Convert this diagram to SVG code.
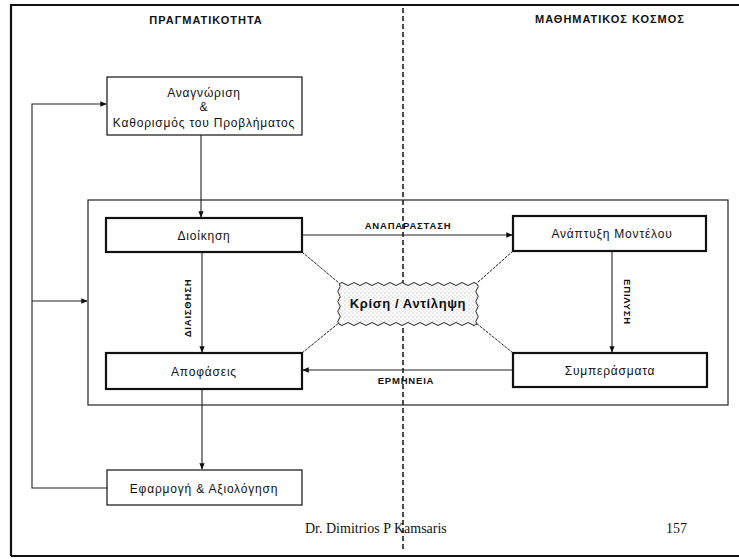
<svg xmlns="http://www.w3.org/2000/svg" width="739" height="559" viewBox="0 0 739 559">
  <style>
    .hdr { font-family: "Liberation Sans", Arial, sans-serif; font-size: 11px; font-weight: bold; letter-spacing: 1px; fill: #111; }
    .lbl { font-family: "Liberation Sans", Arial, sans-serif; font-size: 12px; letter-spacing: 0.8px; fill: #111; }
    .edge-lbl { font-family: "Liberation Sans", Arial, sans-serif; font-size: 9.5px; font-weight: bold; letter-spacing: 0.8px; fill: #111; }
    .foot { font-family: "Liberation Serif", "Times New Roman", serif; font-size: 14px; fill: #111; }
    .box { fill: #fff; stroke: #111; stroke-width: 1.2; }
    .box-b { fill: #fff; stroke: #111; stroke-width: 2.2; }
    .ln { fill: none; stroke: #222; stroke-width: 1.1; }
    .diag { fill: none; stroke: #222; stroke-width: 1; stroke-dasharray: 3 1; }
  </style>
  <defs>
    <marker id="arr" viewBox="0 0 8 8" refX="7" refY="4" markerWidth="6" markerHeight="6" orient="auto">
      <path d="M0,0.8 L8,4 L0,7.2 z" fill="#111"/>
    </marker>
    <pattern id="stipple" width="4" height="4" patternUnits="userSpaceOnUse">
      <rect width="4" height="4" fill="#fff"/>
      <circle cx="1" cy="1" r="0.6" fill="#999"/>
      <circle cx="3" cy="3" r="0.6" fill="#bbb"/>
    </pattern>
  </defs>

  <rect width="739" height="559" fill="#fff"/>

  <!-- page frame and the two halves -->
  <g id="frame">
    <path d="M11,556 L11,5 L739,5" fill="none" stroke="#111" stroke-width="2.2"/>
    <path d="M11,556 L739,556" fill="none" stroke="#111" stroke-width="2"/>
    <line x1="403" y1="8" x2="403" y2="552" stroke="#111" stroke-width="1.5" stroke-dasharray="5 3"/>
    <text class="hdr" x="206" y="24" text-anchor="middle">ΠΡΑΓΜΑΤΙΚΟΤΗΤΑ</text>
    <text class="hdr" x="610" y="23" text-anchor="middle">ΜΑΘΗΜΑΤΙΚΟΣ ΚΟΣΜΟΣ</text>
  </g>

  <!-- inner process frame -->
  <rect id="process-frame" x="88" y="200" width="640" height="205" fill="none" stroke="#222" stroke-width="1.2"/>

  <!-- connectors -->
  <g id="connectors">
    <line class="ln" x1="201" y1="135" x2="201" y2="217" marker-end="url(#arr)"/>
    <line class="ln" x1="302" y1="235" x2="512" y2="235" marker-end="url(#arr)"/>
    <line class="ln" x1="513" y1="370" x2="303" y2="370" marker-end="url(#arr)"/>
    <line class="ln" x1="202" y1="252" x2="202" y2="352" marker-end="url(#arr)"/>
    <line class="ln" x1="612" y1="251" x2="612" y2="352" marker-end="url(#arr)"/>
    <line class="ln" x1="202" y1="389" x2="202" y2="469" marker-end="url(#arr)"/>
    <polyline class="ln" points="107,488 32,488 32,104 106,104" marker-end="url(#arr)"/>
    <line class="ln" x1="32" y1="301" x2="87" y2="301" marker-end="url(#arr)"/>
    <line class="diag" x1="302" y1="252" x2="339" y2="283"/>
    <line class="diag" x1="513" y1="251" x2="477" y2="283"/>
    <line class="diag" x1="302" y1="353" x2="340" y2="322"/>
    <line class="diag" x1="513" y1="353" x2="476" y2="323"/>
    <text class="edge-lbl" x="408" y="229" text-anchor="middle">ΑΝΑΠΑΡΑΣΤΑΣΗ</text>
    <text class="edge-lbl" x="406" y="384" text-anchor="middle">ΕΡΜΗΝΕΙΑ</text>
    <text class="edge-lbl" transform="translate(191,308) rotate(-90)" text-anchor="middle" letter-spacing="1.8">ΔΙΑΙΣΘΗΣΗ</text>
    <text class="edge-lbl" transform="translate(624,302) rotate(90)" text-anchor="middle" letter-spacing="1.5">ΕΠΙΛΥΣΗ</text>
  </g>

  <g id="node-problem">
    <rect class="box" x="107" y="77" width="195" height="58"/>
    <text class="lbl" x="204" y="97" text-anchor="middle">Αναγνώριση</text>
    <text class="lbl" x="204" y="111" text-anchor="middle">&amp;</text>
    <text class="lbl" x="204" y="127" text-anchor="middle">Καθορισμός του Προβλήματος</text>
  </g>

  <g id="node-management">
    <rect class="box-b" x="106" y="218" width="196" height="34"/>
    <text class="lbl" x="204" y="240" text-anchor="middle">Διοίκηση</text>
  </g>

  <g id="node-model">
    <rect class="box-b" x="513" y="216" width="193" height="35"/>
    <text class="lbl" x="612" y="238" text-anchor="middle">Ανάπτυξη Μοντέλου</text>
  </g>

  <g id="node-decisions">
    <rect class="box-b" x="106" y="353" width="196" height="36"/>
    <text class="lbl" x="204" y="376" text-anchor="middle">Αποφάσεις</text>
  </g>

  <g id="node-conclusions">
    <rect class="box-b" x="513" y="353" width="194" height="34"/>
    <text class="lbl" x="610" y="375" text-anchor="middle">Συμπεράσματα</text>
  </g>

  <g id="node-judgement">
    <path fill="url(#stipple)" stroke="#222" stroke-width="1" d="M339,284 q3,-3 6,0 t6,0 t6,0 t6,0 t6,0 t6,0 t6,0 t6,0 t6,0 t6,0 t6,0 t6,0 t6,0 t6,0 t6,0 t6,0 t6,0 t6,0 t6,0 t6,0 t6,0 t6,0 t6,0 q2.5,2.5 0,5 t0,5 t0,5 t0,5 t0,5 t0,5 t0,5 t0,5 q-3,3 -6,0 t-6,0 t-6,0 t-6,0 t-6,0 t-6,0 t-6,0 t-6,0 t-6,0 t-6,0 t-6,0 t-6,0 t-6,0 t-6,0 t-6,0 t-6,0 t-6,0 t-6,0 t-6,0 t-6,0 t-6,0 t-6,0 t-6,0 q-2.5,-2.5 0,-5 t0,-5 t0,-5 t0,-5 t0,-5 t0,-5 t0,-5 t0,-5 z"/>
    <text x="408" y="308" text-anchor="middle" font-family="'Liberation Sans', Arial, sans-serif" font-weight="bold" font-size="13" letter-spacing="0.6" fill="#111">Κρίση / Αντίληψη</text>
  </g>

  <g id="node-implementation">
    <rect class="box" x="107" y="470" width="195" height="35"/>
    <text class="lbl" x="204" y="493" text-anchor="middle">Εφαρμογή &amp; Αξιολόγηση</text>
  </g>

  <g id="footer">
    <text class="foot" x="305" y="533">Dr. Dimitrios P Kamsaris</text>
    <text class="foot" x="666" y="533">157</text>
  </g>
</svg>
